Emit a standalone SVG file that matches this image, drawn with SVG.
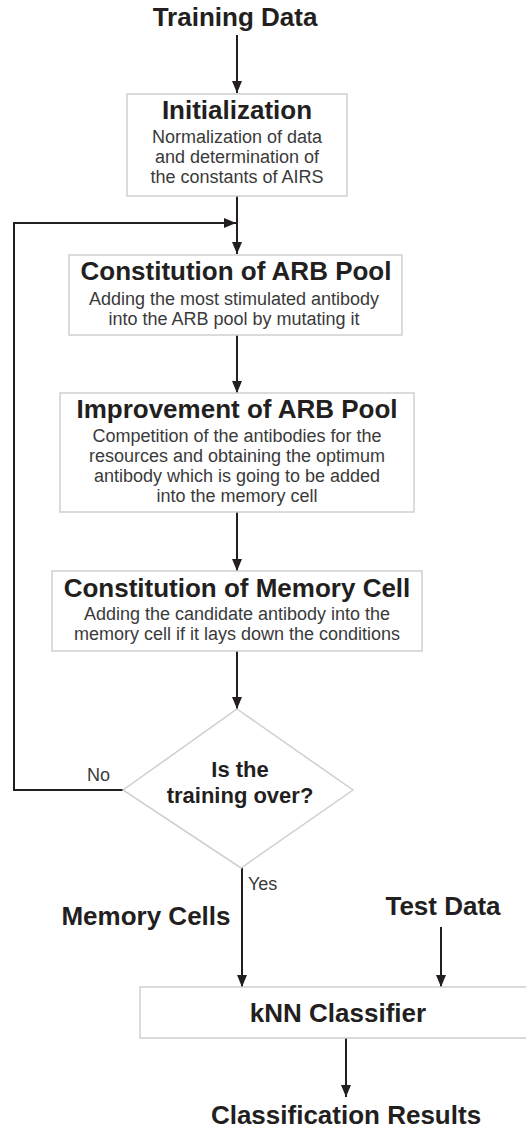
<svg xmlns="http://www.w3.org/2000/svg" width="526" height="1128" viewBox="0 0 526 1128">
<style>
.box{fill:#fff;stroke:#cfcfcf;stroke-width:1.5}
.t{font-family:"Liberation Sans",Arial,sans-serif;font-weight:bold;font-size:26px;fill:#231f20;text-anchor:middle}
.s{font-family:"Liberation Sans",Arial,sans-serif;font-size:18px;fill:#3a3a3a;text-anchor:middle}
.q{font-family:"Liberation Sans",Arial,sans-serif;font-weight:bold;font-size:22px;fill:#231f20;text-anchor:middle}
.l{font-family:"Liberation Sans",Arial,sans-serif;font-size:18px;fill:#3a3a3a}
.c{fill:none;stroke:#231f20;stroke-width:2}
</style>
<defs>
<marker id="ah" markerUnits="userSpaceOnUse" markerWidth="12" markerHeight="12" refX="12" refY="5" orient="auto">
<path d="M0,0 L12,5 L0,10 z" fill="#231f20"/>
</marker>
</defs>
<rect width="526" height="1128" fill="#fff"/>
<g id="connectors">
<path class="c" d="M237,35 V93" marker-end="url(#ah)"/>
<path class="c" d="M237,196 V254" marker-end="url(#ah)"/>
<path class="c" d="M123,790 H14 V223 H236" marker-end="url(#ah)"/>
<path class="c" d="M237,335 V393" marker-end="url(#ah)"/>
<path class="c" d="M237,512 V571" marker-end="url(#ah)"/>
<path class="c" d="M237,651 V709" marker-end="url(#ah)"/>
<path class="c" d="M242,868 V987" marker-end="url(#ah)"/>
<path class="c" d="M441,927 V987" marker-end="url(#ah)"/>
<path class="c" d="M346,1038 V1097" marker-end="url(#ah)"/>
</g>
<g id="training-data"><text class="t" x="235" y="26">Training Data</text></g>
<g id="initialization">
<rect class="box" x="127" y="94" width="220" height="102"/>
<text class="t" x="237" y="119">Initialization</text>
<text class="s" x="237" y="143">Normalization of data</text>
<text class="s" x="237" y="163">and determination of</text>
<text class="s" x="237" y="183">the constants of AIRS</text>
</g>
<g id="arb-pool">
<rect class="box" x="69" y="255" width="333" height="80"/>
<text class="t" x="236" y="280">Constitution of ARB Pool</text>
<text class="s" x="234" y="305">Adding the most stimulated antibody</text>
<text class="s" x="234" y="325">into the ARB pool by mutating it</text>
</g>
<g id="improvement">
<rect class="box" x="60" y="393" width="354" height="119"/>
<text class="t" x="237" y="418">Improvement of ARB Pool</text>
<text class="s" x="237" y="442">Competition of the antibodies for the</text>
<text class="s" x="237" y="462">resources and obtaining the optimum</text>
<text class="s" x="237" y="482">antibody which is going to be added</text>
<text class="s" x="237" y="502">into the memory cell</text>
</g>
<g id="memory-cell">
<rect class="box" x="52" y="571" width="370" height="80"/>
<text class="t" x="237" y="597">Constitution of Memory Cell</text>
<text class="s" x="237" y="620">Adding the candidate antibody into the</text>
<text class="s" x="237" y="640">memory cell if it lays down the conditions</text>
</g>
<g id="decision">
<polygon class="box" points="237,709 353,790 241,868 123,790"/>
<text class="q" x="240" y="777">Is the</text>
<text class="q" x="240" y="803">training over?</text>
</g>
<g id="labels">
<text class="l" x="87" y="781">No</text>
<text class="l" x="248" y="890">Yes</text>
</g>
<g id="memory-cells"><text class="t" x="146" y="925">Memory Cells</text></g>
<g id="test-data"><text class="t" x="443" y="915">Test Data</text></g>
<g id="knn">
<rect class="box" x="140" y="987" width="400" height="51"/>
<text class="t" x="338" y="1022">kNN Classifier</text>
</g>
<g id="results"><text class="t" x="346" y="1124">Classification Results</text></g>
</svg>
